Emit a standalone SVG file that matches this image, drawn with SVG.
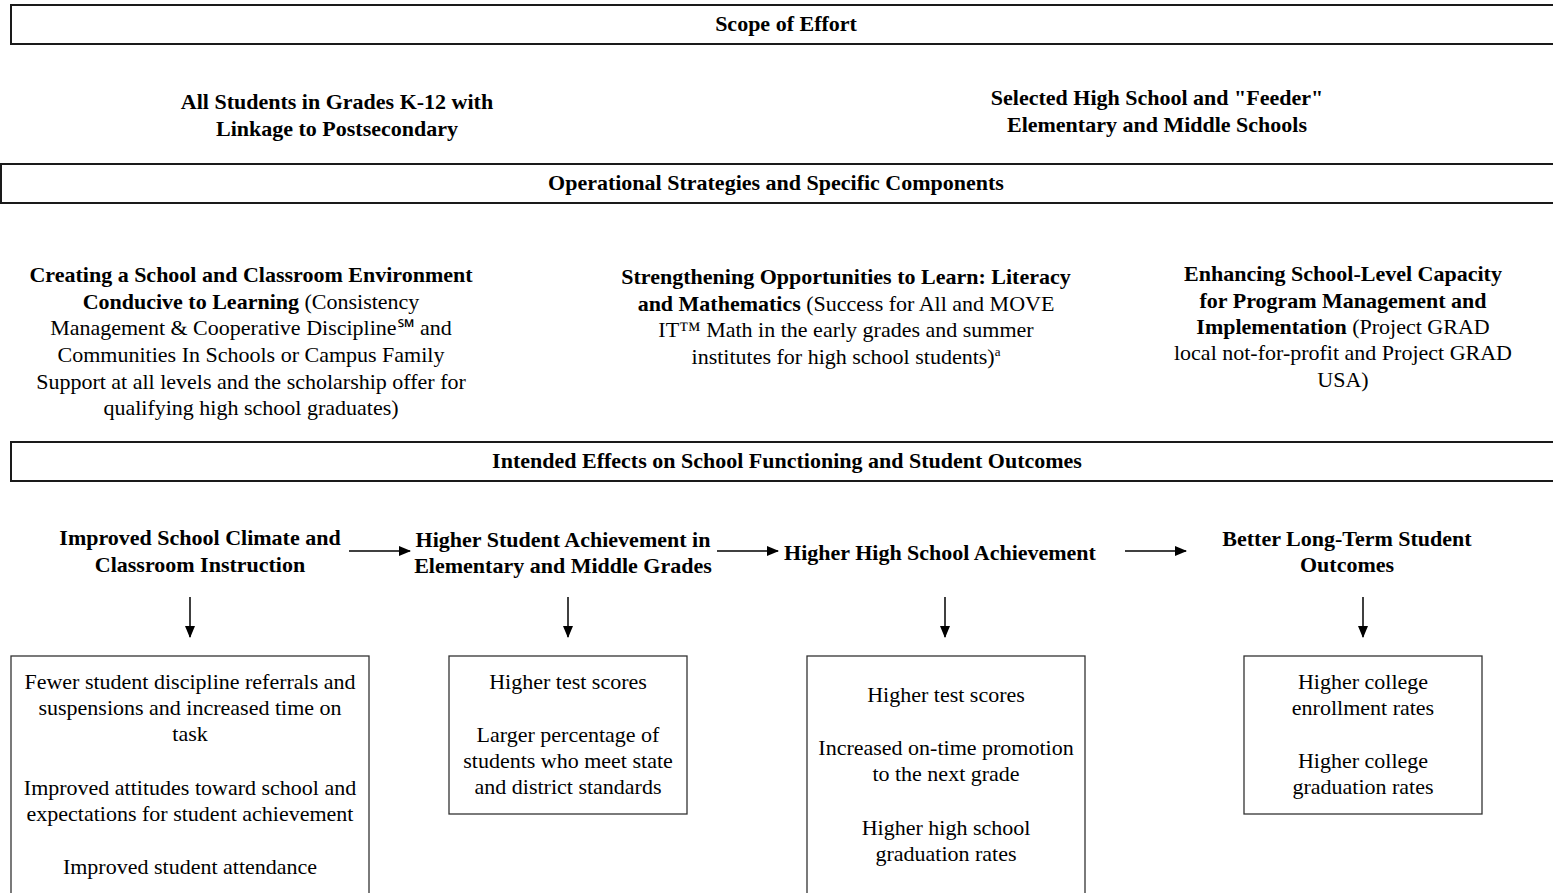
<svg xmlns="http://www.w3.org/2000/svg" width="1553" height="893" viewBox="0 0 1553 893">
<style>
text{font-family:"Liberation Serif","Times New Roman",serif;font-size:22px;fill:#000;text-anchor:middle}
.b{font-weight:bold}
.banner{fill:#fff;stroke:#1a1a1a;stroke-width:2}
.box{fill:#fff;stroke:#333;stroke-width:1.3}
.conn{stroke:#000;stroke-width:1.5;fill:none;marker-end:url(#ah)}
.sup{font-size:13px}
</style>
<defs>
<marker id="ah" markerWidth="12" markerHeight="10" refX="11" refY="5" orient="auto" markerUnits="userSpaceOnUse">
<path d="M0,0 L12,5 L0,10 Z" fill="#000"/>
</marker>
</defs>
<rect width="1553" height="893" fill="#fff"/>

<g id="scope-banner">
<rect class="banner" x="11" y="5" width="1550" height="39"/>
<text class="b" x="786" y="31">Scope of Effort</text>
</g>
<g id="scope-all">
<text class="b" x="337" y="109">All Students in Grades K-12 with</text>
<text class="b" x="337" y="136">Linkage to Postsecondary</text>
</g>
<g id="scope-selected">
<text class="b" x="1157" y="105">Selected High School and "Feeder"</text>
<text class="b" x="1157" y="132">Elementary and Middle Schools</text>
</g>

<g id="ops-banner">
<rect class="banner" x="1" y="164" width="1560" height="39"/>
<text class="b" x="776" y="190">Operational Strategies and Specific Components</text>
</g>
<g id="ops-environment">
<text class="b" x="251" y="282">Creating a School and Classroom Environment</text>
<text x="251" y="309"><tspan class="b">Conducive to Learning</tspan> (Consistency</text>
<text x="251" y="335">Management &amp; Cooperative Discipline℠ and</text>
<text x="251" y="362">Communities In Schools or Campus Family</text>
<text x="251" y="389">Support at all levels and the scholarship offer for</text>
<text x="251" y="415">qualifying high school graduates)</text>
</g>
<g id="ops-learn">
<text class="b" x="846" y="284">Strengthening Opportunities to Learn: Literacy</text>
<text x="846" y="311"><tspan class="b">and Mathematics</tspan> (Success for All and MOVE</text>
<text x="846" y="337">IT™ Math in the early grades and summer</text>
<text x="846" y="364">institutes for high school students)<tspan class="sup" dy="-8">a</tspan></text>
</g>
<g id="ops-capacity">
<text class="b" x="1343" y="281">Enhancing School-Level Capacity</text>
<text class="b" x="1343" y="308">for Program Management and</text>
<text x="1343" y="334"><tspan class="b">Implementation</tspan> (Project GRAD</text>
<text x="1343" y="360">local not-for-profit and Project GRAD</text>
<text x="1343" y="387">USA)</text>
</g>

<g id="effects-banner">
<rect class="banner" x="11" y="442" width="1550" height="39"/>
<text class="b" x="787" y="468">Intended Effects on School Functioning and Student Outcomes</text>
</g>

<g id="climate">
<text class="b" x="200" y="545">Improved School Climate and</text>
<text class="b" x="200" y="572">Classroom Instruction</text>
</g>
<g id="elem-achievement">
<text class="b" x="563" y="547">Higher Student Achievement in</text>
<text class="b" x="563" y="573">Elementary and Middle Grades</text>
</g>
<g id="hs-achievement">
<text class="b" x="940" y="560">Higher High School Achievement</text>
</g>
<g id="long-term">
<text class="b" x="1347" y="546">Better Long-Term Student</text>
<text class="b" x="1347" y="572">Outcomes</text>
</g>

<g id="box-climate">
<rect class="box" x="11" y="656" width="358" height="250"/>
<text x="190" y="689">Fewer student discipline referrals and</text>
<text x="190" y="715">suspensions and increased time on</text>
<text x="190" y="741">task</text>
<text x="190" y="795">Improved attitudes toward school and</text>
<text x="190" y="821">expectations for student achievement</text>
<text x="190" y="874">Improved student attendance</text>
</g>
<g id="box-elem">
<rect class="box" x="449" y="656" width="238" height="158"/>
<text x="568" y="689">Higher test scores</text>
<text x="568" y="742">Larger percentage of</text>
<text x="568" y="768">students who meet state</text>
<text x="568" y="794">and district standards</text>
</g>
<g id="box-hs">
<rect class="box" x="807" y="656" width="278" height="250"/>
<text x="946" y="702">Higher test scores</text>
<text x="946" y="755">Increased on-time promotion</text>
<text x="946" y="781">to the next grade</text>
<text x="946" y="835">Higher high school</text>
<text x="946" y="861">graduation rates</text>
</g>
<g id="box-long">
<rect class="box" x="1244" y="656" width="238" height="158"/>
<text x="1363" y="689">Higher college</text>
<text x="1363" y="715">enrollment rates</text>
<text x="1363" y="768">Higher college</text>
<text x="1363" y="794">graduation rates</text>
</g>

<g id="connectors">
<line class="conn" x1="349" y1="551" x2="410" y2="551"/>
<line class="conn" x1="717" y1="551" x2="778" y2="551"/>
<line class="conn" x1="1125" y1="551" x2="1186" y2="551"/>
<line class="conn" x1="190" y1="597" x2="190" y2="637"/>
<line class="conn" x1="568" y1="597" x2="568" y2="637"/>
<line class="conn" x1="945" y1="597" x2="945" y2="637"/>
<line class="conn" x1="1363" y1="597" x2="1363" y2="637"/>
</g>
</svg>
